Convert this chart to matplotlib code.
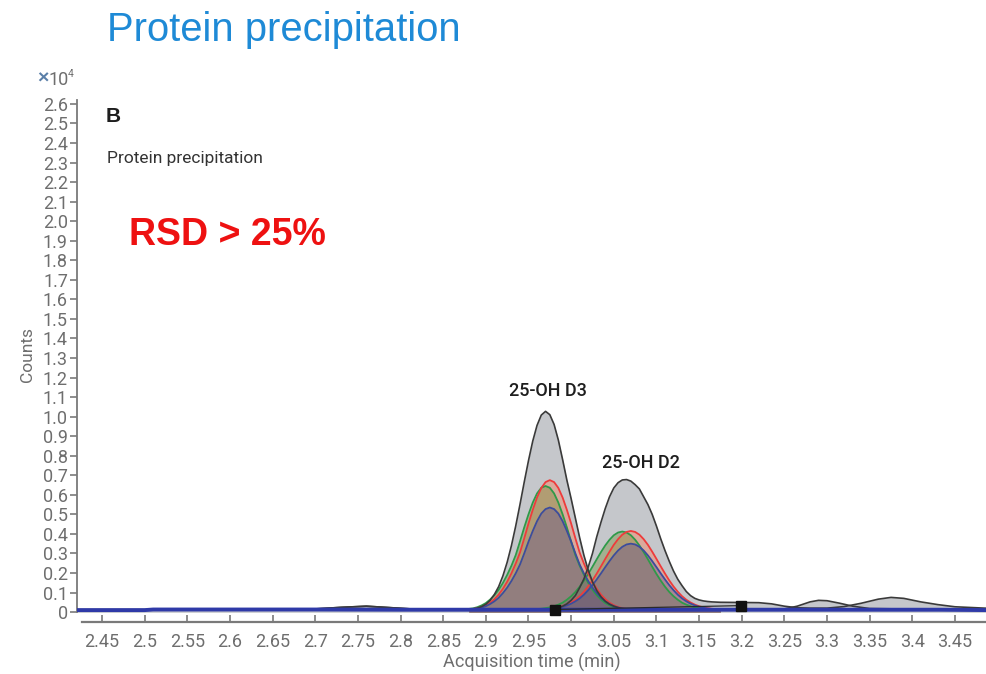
import matplotlib
matplotlib.use("Agg")
import matplotlib.pyplot as plt

# ---- data (counts in units of 10^4) ----
# common time grid across the two peaks, 2.880 .. 3.175 min
t_peak = [2.880, 2.885, 2.890,
          2.895, 2.900, 2.905, 2.910, 2.915, 2.920, 2.925, 2.930, 2.935, 2.940,
          2.945, 2.950, 2.955, 2.960, 2.965, 2.970, 2.975, 2.980, 2.985, 2.990,
          2.995, 3.000, 3.005, 3.010, 3.015, 3.020, 3.025, 3.030, 3.035, 3.040,
          3.045, 3.050, 3.055, 3.060, 3.065, 3.070, 3.075, 3.080, 3.085, 3.090,
          3.095, 3.100, 3.105, 3.110, 3.115, 3.120, 3.125, 3.130, 3.135, 3.140,
          3.145, 3.150, 3.155, 3.160, 3.165, 3.170, 3.175]

# black (total) traces
black_d3 = [.014, .016, .020,
            .028, .040, .060, .090, .130, .185, .255, .340, .440, .550,
            .665, .775, .875, .955, 1.008, 1.027, 1.01, .96, .88, .78,
            .675, .58, .48, .38, .29, .215, .155, .11, .078, .055,
            .04, .03, .023, .018, .015, .014, .014, .014, .014, .014,
            .014, .014, .014, .014, .014, .014, .014, .014, .014, .014,
            .014, .014, .014, .014, .014, .014, .014]
black_d2 = [.015, .015, .015,
            .015, .015, .015, .015, .015, .015, .015, .015, .015, .015,
            .015, .015, .015, .015, .015, .015, .016, .018, .022, .03,
            .042, .06, .085, .125, .17, .23, .30, .385, .46, .53,
            .59, .635, .662, .676, .678, .67, .652, .63, .59, .55,
            .50, .44, .375, .315, .26, .21, .168, .135, .105, .084,
            .07, .062, .057, .054, .052, .051, .05]

# replicate traces, 25-OH D3
red_d3 = [.014, .016, .020,
          .026, .035, .048, .066, .089, .119, .155, .198, .248, .304,
          .377, .453, .523, .586, .635, .665, .675, .665, .635, .586,
          .523, .453, .377, .304, .248, .198, .155, .119, .089, .066,
          .048, .035, .026, .020, .016, .014, .013, .013, .013, .013,
          .013, .013, .013, .013, .013, .013, .013, .013, .013, .013,
          .013, .013, .013, .013, .013, .013, .013]
green_d3 = [.016, .019, .025,
            .034, .046, .064, .086, .114, .149, .190, .237, .291, .361,
            .433, .500, .560, .607, .636, .645, .636, .607, .560, .500,
            .433, .361, .291, .237, .190, .149, .114, .086, .064, .046,
            .034, .025, .019, .016, .014, .013, .013, .013, .013, .013,
            .013, .013, .013, .013, .013, .013, .013, .013, .013, .013,
            .013, .013, .013, .013, .013, .013, .013]
blue_d3 = [.014, .016, .018,
           .023, .030, .041, .055, .073, .097, .125, .159, .198, .243,
           .300, .360, .415, .465, .504, .527, .535, .527, .504, .465,
           .415, .360, .300, .243, .198, .159, .125, .097, .073, .055,
           .041, .030, .023, .018, .016, .014, .013, .013, .013, .013,
           .013, .013, .013, .013, .013, .013, .013, .013, .013, .013,
           .013, .013, .013, .013, .013, .013, .013]

# replicate traces, 25-OH D2
red_d2 = [.013, .013, .013,
          .013, .013, .013, .013, .013, .013, .013, .013, .013, .013,
          .013, .013, .013, .013, .014, .015, .017, .02, .024, .03,
          .038, .049, .063, .081, .104, .131, .162, .197, .234, .272,
          .309, .344, .373, .396, .41, .415, .41, .396, .373, .344,
          .309, .272, .234, .197, .162, .131, .104, .081, .063, .049,
          .038, .03, .024, .02, .017, .015, .014]
green_d2 = [.013, .013, .013,
            .013, .013, .013, .013, .013, .013, .013, .013, .013, .013,
            .013, .013, .013, .015, .017, .02, .024, .03, .038, .048,
            .063, .081, .103, .13, .161, .195, .232, .27, .307, .341,
            .37, .393, .407, .412, .407, .393, .37, .341, .307, .27,
            .232, .195, .161, .13, .103, .081, .063, .048, .038, .03,
            .024, .02, .017, .015, .014, .013, .013]
blue_d2 = [.013, .013, .013,
           .013, .013, .013, .013, .013, .013, .013, .013, .013, .013,
           .013, .013, .013, .013, .014, .015, .016, .018, .022, .027,
           .034, .043, .055, .07, .089, .112, .138, .167, .198, .23,
           .261, .29, .315, .334, .346, .35, .346, .334, .315, .29,
           .261, .23, .198, .167, .138, .112, .089, .07, .055, .043,
           .034, .027, .022, .018, .016, .015, .014]

# low-level parts of the black traces outside the peak window
wing_left_t = [2.42, 2.65, 2.70, 2.73, 2.76, 2.79, 2.82, 2.87]
wing_left_v = [.012, .012, .016, .024, .03, .022, .014, .013]
tail_d3_t = [3.20, 3.25, 3.265, 3.28, 3.29, 3.30, 3.315, 3.33, 3.35, 3.40, 3.49]
tail_d3_v = [.015, .016, .03, .052, .06, .058, .045, .03, .018, .015, .015]
tail_d2_t = [3.20, 3.22, 3.235, 3.25, 3.265, 3.28, 3.30, 3.32, 3.34, 3.36,
             3.375, 3.39, 3.41, 3.43, 3.45, 3.49]
tail_d2_v = [.049, .048, .042, .03, .022, .02, .02, .028, .045, .066,
             .075, .07, .052, .038, .027, .019]

# blue baseline
base_t = [2.42, 2.50, 2.51, 2.70, 2.80, 2.90, 3.20, 3.43, 3.49]
base_v = [.010, .010, .013, .013, .012, .012, .012, .012, .010]

# integration markers
mark_t = [2.981, 3.199]
mark_v = [.013, .033]

peak_names = ["25-OH D3", "25-OH D2"]
peak_label_pos = [(2.973, 1.13), (3.082, 0.765)]

xticks = [2.45, 2.5, 2.55, 2.6, 2.65, 2.7, 2.75, 2.8, 2.85, 2.9, 2.95, 3,
          3.05, 3.1, 3.15, 3.2, 3.25, 3.3, 3.35, 3.4, 3.45]
xtick_labels = ["2.45", "2.5", "2.55", "2.6", "2.65", "2.7", "2.75", "2.8",
                "2.85", "2.9", "2.95", "3", "3.05", "3.1", "3.15", "3.2",
                "3.25", "3.3", "3.35", "3.4", "3.45"]
yticks = [i / 10 for i in range(27)]
ytick_labels = ["0"] + ["%.1f" % v for v in yticks[1:]]

for s in [black_d3, black_d2, red_d3, green_d3, blue_d3, red_d2, green_d2, blue_d2]:
    assert len(s) == len(t_peak)

# ---- fonts ----
narrow = ["Roboto", "DejaVu Sans"]
arial = ["Liberation Sans", "DejaVu Sans"]
grey_txt = "#6e6e6e"

fig = plt.figure(figsize=(9.87, 6.74), dpi=100)
ax = fig.add_axes([0.078, 0.0832, 0.922, 0.7916])
ax.set_xlim(2.4207, 3.4875)
ax.set_ylim(-0.03, 2.7)

full_d3_t = wing_left_t + t_peak + tail_d3_t
full_d3_v = wing_left_v + black_d3 + tail_d3_v
full_d2_t = wing_left_t + t_peak + tail_d2_t
full_d2_v = wing_left_v + black_d2 + tail_d2_v

# gray fill of the total traces
for tt, vv in [(full_d3_t, full_d3_v), (full_d2_t, full_d2_v)]:
    ax.fill_between(tt, 0, vv, color="#c5c7cb", lw=0, zorder=1)

# translucent fills of the replicate traces
fills = [(red_d3, "#ff7a50", 0.38), (red_d2, "#ff7a50", 0.38),
         (green_d3, "#6e8c32", 0.38), (green_d2, "#6e8c32", 0.38),
         (blue_d3, "#64508f", 0.40), (blue_d2, "#64508f", 0.40)]
for vv, c, a in fills:
    ax.fill_between(t_peak, 0, vv, color=c, alpha=a, lw=0, zorder=2)

lines = [(green_d3, "#2e9a48"), (green_d2, "#2e9a48"),
         (red_d3, "#ee3b3b"), (red_d2, "#ee3b3b"),
         (blue_d3, "#3c4c9c"), (blue_d2, "#3c4c9c")]
for vv, c in lines:
    ax.plot(t_peak, vv, color=c, lw=1.3, zorder=3)

ax.plot(full_d3_t, full_d3_v, color="#3a3a3a", lw=1.2, zorder=4)
ax.plot(full_d2_t, full_d2_v, color="#3a3a3a", lw=1.2, zorder=4)

ax.plot(base_t, base_v, color="#2f3aa8", lw=2.8, zorder=5, solid_capstyle="butt")
ax.plot(mark_t, mark_v, color="#2a2a2a", lw=0.9, zorder=5)
ax.plot(mark_t, mark_v, ls="none", marker="s", ms=6.5, color="#111111", zorder=6)

for name, (px, py) in zip(peak_names, peak_label_pos):
    ax.text(px, py, name, ha="center", va="center", fontsize=13,
            fontweight="medium", color="#1e1e1e", family=narrow)

# axes styling
for s in ["top", "right"]:
    ax.spines[s].set_visible(False)
ax.spines["left"].set_color("#7a7a7a")
ax.spines["left"].set_linewidth(1.3)
ax.spines["left"].set_bounds(0, 2.62)
ax.spines["bottom"].set_color("#7a7a7a")
ax.spines["bottom"].set_linewidth(1.6)
ax.spines["bottom"].set_position(("data", -0.05))
ax.spines["bottom"].set_bounds(2.4266, 3.4875)

ax.set_xticks(xticks)
ax.set_xticklabels(xtick_labels, color=grey_txt, fontsize=13, family=narrow)
ax.set_yticks(yticks)
ax.set_yticklabels(ytick_labels, color=grey_txt, fontsize=13, family=narrow)
ax.tick_params(axis="x", direction="in", length=5, width=1.2, color="#7a7a7a", pad=8)
ax.tick_params(axis="y", direction="out", length=5, width=1.2, color="#7a7a7a", pad=1.5)

ax.set_xlabel("Acquisition time (min)", color=grey_txt, fontsize=13, labelpad=1,
              family=narrow)


def fx(px):
    return px / 987


def fy(py):
    return 1 - py / 674


fig.text(fx(28), fy(355), "Counts", rotation=90, ha="center", va="center",
         color=grey_txt, fontsize=12.5, family=narrow)
fig.text(fx(37), fy(79), "\u00d7", ha="left", va="center", color="#5a7fa8",
         fontsize=14, fontweight="bold", family=arial)
fig.text(fx(49), fy(80), "10", ha="left", va="center", color=grey_txt,
         fontsize=13, family=narrow)
fig.text(fx(68), fy(74), "4", ha="left", va="center", color=grey_txt,
         fontsize=7.5, family=narrow)

fig.text(fx(107), fy(30), "Protein precipitation", ha="left", va="center",
         color="#1e8ad6", fontsize=28.8, family=arial)
fig.text(fx(106), fy(117), "B", ha="left", va="center", color="#1e1e1e",
         fontsize=15, fontweight="bold", family=arial)
fig.text(fx(107), fy(158), "Protein precipitation", ha="left", va="center",
         color="#333333", fontsize=12.5, family=narrow)
fig.text(fx(129), fy(235), "RSD > 25%", ha="left", va="center", color="#ee1111",
         fontsize=27, fontweight="bold", family=arial)

fig.savefig("out.png", dpi=100)
